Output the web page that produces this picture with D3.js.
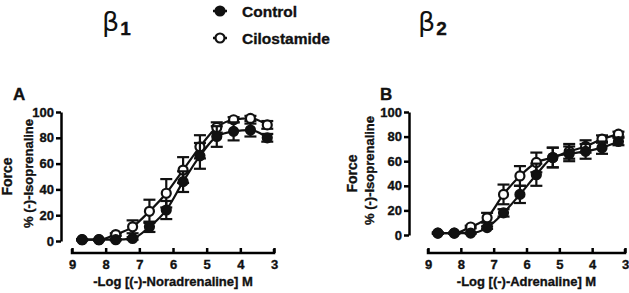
<!DOCTYPE html>
<html lang="en">
<head>
<meta charset="UTF-8">
<title>Beta1 / Beta2 concentration-effect curves</title>
<script src="https://d3js.org/d3.v7.min.js"></script>
<style>
  body { margin: 0; background: #fff; }
  text { font-family: "Liberation Sans", Arial, sans-serif; font-weight: bold; fill: #111; stroke: #111; stroke-width: 0.35px; }
</style>
</head>
<body>
<svg width="629" height="293"></svg>
<script>
// -log molar concentrations (same for both panels)
var logConc = [8.7, 8.2, 7.7, 7.2, 6.7, 6.2, 5.7, 5.2, 4.7, 4.2, 3.7, 3.2];

// panel A: (-)-noradrenaline, beta1
var ctrlA = [1, 1, 1, 2, 11, 24, 46, 66, 81, 85, 86, 80];
var ctrlAErr = [0.5, 0.5, 0.5, 1, 4, 7, 8, 10, 8, 7, 5, 3];
var ciloA = [1, 1, 5, 11, 23, 37, 55, 73, 88, 94, 95, 90];
var ciloAErr = [0.5, 0.5, 1, 5, 9, 11, 10, 9, 4, 2, 2, 3];

// panel B: (-)-adrenaline, beta2
var ctrlB = [1.5, 1.5, 1.5, 6, 18, 33, 49, 63, 66, 68, 71, 76];
var ctrlBErr = [0.5, 0.5, 0.5, 1, 3, 7, 9, 8, 6, 6, 5, 3];
var ciloB = [1.5, 1.5, 6.5, 14, 33, 48, 59, 63, 68, 72, 78, 82];
var ciloBErr = [0.5, 0.5, 1, 4, 8, 8, 8, 8, 6, 5, 3, 2];

var xTicks = [9, 8, 7, 6, 5, 4, 3];
var yTicks = [0, 20, 40, 60, 80, 100];

var svg = d3.select("svg");

function drawPanel(opt) {
    var x = d3.scaleLinear().domain([9, 3]).range([opt.x0, opt.x1]);
    var y = d3.scaleLinear().domain([0, 100]).range([opt.y0, opt.y1]);
    var g = svg.append("g");

    // y axis
    g.append("g")
        .attr("transform", "translate(" + opt.yAxisX + ",0)")
        .call(d3.axisLeft(y).tickValues(yTicks).tickSize(5).tickPadding(2).tickSizeOuter(0))
        .call(a => a.select(".domain").attr("stroke-width", 2.5))
        .call(a => a.selectAll(".tick line").attr("stroke-width", 2.5))
        .call(a => a.selectAll("text").attr("font-size", 13).attr("font-weight", "bold")
            .attr("font-family", "Liberation Sans, Arial, sans-serif"));

    // x axis, detached below the data
    g.append("g")
        .attr("transform", "translate(0," + opt.xAxisY + ")")
        .call(d3.axisBottom(x).tickValues(xTicks).tickFormat(d3.format("d"))
            .tickSize(5).tickPadding(2).tickSizeOuter(0))
        .call(a => a.select(".domain").attr("stroke-width", 2.5)
            .attr("d", "M" + opt.x0 + ",-4V0H" + opt.x1 + "V-4"))
        .call(a => a.selectAll(".tick line").attr("stroke-width", 2.5).attr("y2", -5))
        .call(a => a.selectAll("text").attr("font-size", 13).attr("font-weight", "bold")
            .attr("font-family", "Liberation Sans, Arial, sans-serif").attr("dy", "0.35em").attr("y", 11));

    g.append("text")
        .attr("x", (opt.x0 + opt.x1) / 2).attr("y", opt.xAxisY + 33)
        .attr("text-anchor", "middle").attr("font-size", 13)
        .text(opt.xTitle);

    // y titles
    var midY = (opt.y0 + opt.y1) / 2;
    g.append("text")
        .attr("transform", "translate(" + opt.forceX + "," + midY + ") rotate(-90)")
        .attr("text-anchor", "middle").attr("font-size", 14)
        .text("Force");
    g.append("text")
        .attr("transform", "translate(" + opt.isoX + "," + (midY - 3) + ") rotate(-90)")
        .attr("text-anchor", "middle").attr("font-size", 13)
        .text("% (-)-Isoprenaline");

    g.append("text")
        .attr("x", opt.letterX).attr("y", 100)
        .attr("font-size", 17)
        .text(opt.letter);

    var line = d3.line()
        .x(d => x(d[0]))
        .y(d => y(d[1]))
        .curve(d3.curveMonotoneX);

    opt.series.forEach(function (s) {
        var pts = logConc.map((c, i) => [c, s.vals[i], s.err[i]]);
        g.append("path")
            .datum(pts)
            .attr("d", line)
            .attr("fill", "none")
            .attr("stroke", "#111")
            .attr("stroke-width", 2.2);

        var eb = g.append("g");
        pts.forEach(function (p) {
            var cx = x(p[0]);
            eb.append("line")
                .attr("x1", cx).attr("x2", cx)
                .attr("y1", y(p[1] - p[2])).attr("y2", y(p[1] + p[2]))
                .attr("stroke", "#111").attr("stroke-width", 2.2);
            [p[1] - p[2], p[1] + p[2]].forEach(function (v) {
                eb.append("line")
                    .attr("x1", cx - 6).attr("x2", cx + 6)
                    .attr("y1", y(v)).attr("y2", y(v))
                    .attr("stroke", "#111").attr("stroke-width", 2.2);
            });
        });
        g.selectAll(null)
            .data(pts)
            .enter().append("circle")
            .attr("cx", d => x(d[0]))
            .attr("cy", d => y(d[1]))
            .attr("r", 4.5)
            .attr("fill", s.filled ? "#111" : "#fff")
            .attr("stroke", "#111")
            .attr("stroke-width", 2.2);
    });
}

drawPanel({
    x0: 72, x1: 274, y0: 241, y1: 112,
    yAxisX: 61, xAxisY: 253,
    forceX: 12, isoX: 33, letterX: 13, letter: "A",
    xTitle: "-Log [(-)-Noradrenaline] M",
    series: [
        { vals: ciloA, err: ciloAErr, filled: false },
        { vals: ctrlA, err: ctrlAErr, filled: true }
    ]
});

drawPanel({
    x0: 428, x1: 625, y0: 235, y1: 112,
    yAxisX: 409, xAxisY: 253,
    forceX: 357, isoX: 374, letterX: 380, letter: "B",
    xTitle: "-Log [(-)-Adrenaline] M",
    series: [
        { vals: ciloB, err: ciloBErr, filled: false },
        { vals: ctrlB, err: ctrlBErr, filled: true }
    ]
});

// panel headings
function beta(xp, sub) {
    var t = svg.append("text").attr("x", xp).attr("y", 31);
    t.append("tspan").attr("font-size", 27).attr("font-weight", "normal")
        .attr("stroke-width", 0)
        .attr("font-family", "DejaVu Sans, sans-serif").text("\u03b2");
    t.append("tspan").attr("font-size", 19).attr("dx", 1).attr("dy", 4).text(sub);
}
beta(102, "1");
beta(418, "2");

// legend
var legend = [
    { name: "Control", filled: true },
    { name: "Cilostamide", filled: false }
];
var lg = svg.append("g").selectAll("g")
    .data(legend).enter().append("g")
    .attr("transform", (d, i) => "translate(220," + (11 + i * 27) + ")");
lg.append("line").attr("x1", -7).attr("x2", 7)
    .attr("stroke", "#111").attr("stroke-width", 2.5);
lg.append("circle").attr("r", 4.5)
    .attr("fill", d => d.filled ? "#111" : "#fff")
    .attr("stroke", "#111").attr("stroke-width", 2.2);
lg.append("text").attr("x", 22).attr("y", 5.5)
    .attr("font-size", 15.5)
    .text(d => d.name);
</script>
</body>
</html>
